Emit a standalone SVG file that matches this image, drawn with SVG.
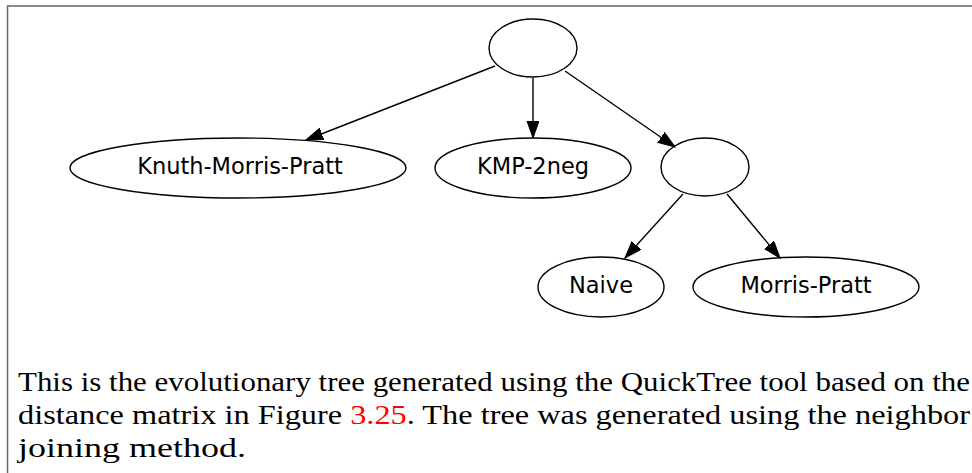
<svg xmlns="http://www.w3.org/2000/svg" width="972" height="473" viewBox="0 0 972 473">
<style>
.node ellipse{fill:none;stroke:#000;stroke-width:1.4}
.node text{font-family:"DejaVu Sans",sans-serif;font-size:22.5px;text-anchor:middle;fill:#000}
.edges line{stroke:#000;stroke-width:1.4}
.cap{font-family:"Liberation Serif",serif;font-size:27px;fill:#000}
</style>
<defs>
<marker id="arr" markerUnits="userSpaceOnUse" markerWidth="18" markerHeight="13" refX="17" refY="6" orient="auto">
<path d="M0,0 L17,6 L0,12 z" fill="#000" stroke="#000" stroke-width="1"/>
</marker>
</defs>
<rect width="972" height="473" fill="#fff"/>
<path d="M7.5,473 V6 H972" fill="none" stroke="#666" stroke-width="1.5"/>
<g class="edges">
<line x1="495" y1="66" x2="306" y2="140" marker-end="url(#arr)"/>
<line x1="533" y1="78" x2="533" y2="138" marker-end="url(#arr)"/>
<line x1="565" y1="71" x2="675" y2="147" marker-end="url(#arr)"/>
<line x1="683" y1="194" x2="625" y2="258" marker-end="url(#arr)"/>
<line x1="727" y1="194" x2="780" y2="258" marker-end="url(#arr)"/>
</g>
<g id="root" class="node"><ellipse cx="533" cy="48" rx="44" ry="29"/></g>
<g id="knuth" class="node"><ellipse cx="238" cy="168" rx="168" ry="30"/><text x="240" y="174">Knuth-Morris-Pratt</text></g>
<g id="kmp2neg" class="node"><ellipse cx="533" cy="168" rx="98" ry="30"/><text x="533" y="174">KMP-2neg</text></g>
<g id="inner" class="node"><ellipse cx="705" cy="167" rx="44" ry="29"/></g>
<g id="naive" class="node"><ellipse cx="601" cy="287" rx="63" ry="30"/><text x="601" y="293">Naive</text></g>
<g id="mp" class="node"><ellipse cx="806" cy="287" rx="113" ry="30"/><text x="806" y="293">Morris-Pratt</text></g>
<text class="cap" x="18" y="391" textLength="952" lengthAdjust="spacingAndGlyphs">This is the evolutionary tree generated using the QuickTree tool based on the</text>
<text class="cap" x="18" y="424" textLength="952" lengthAdjust="spacingAndGlyphs">distance matrix in Figure <tspan fill="#f00">3.25</tspan>.  The tree was generated using the neighbor</text>
<text class="cap" x="18" y="457" textLength="228" lengthAdjust="spacingAndGlyphs">joining method.</text>
</svg>
